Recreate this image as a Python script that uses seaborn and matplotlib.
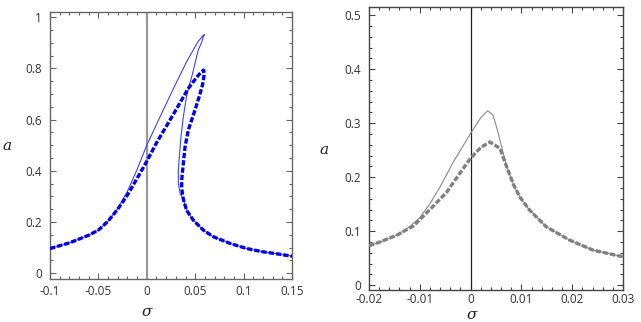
import numpy as np
import pandas as pd
import matplotlib
matplotlib.use("Agg")
import matplotlib.pyplot as plt
from matplotlib.ticker import MultipleLocator, FuncFormatter
import seaborn as sns

# ---------------- data: left panel (blue) ----------------
left_thin_x = [-0.1, -0.08, -0.06, -0.05, -0.04, -0.03, -0.02, -0.01, 0.0, 0.0136, 0.0274,
               0.041, 0.053, 0.0575, 0.0595, 0.0585, 0.057, 0.053, 0.0498, 0.0466, 0.0435,
               0.041, 0.0377, 0.0353, 0.0336, 0.0326, 0.0326, 0.0345, 0.0377, 0.041, 0.048,
               0.0584, 0.0687, 0.086, 0.1032, 0.1204, 0.135, 0.15]
left_thin_y = [0.096, 0.118, 0.148, 0.168, 0.203, 0.252, 0.32, 0.405, 0.50, 0.61, 0.72,
               0.825, 0.905, 0.925, 0.932, 0.925, 0.905, 0.87, 0.819, 0.77, 0.728,
               0.689, 0.61, 0.532, 0.454, 0.402, 0.35, 0.31, 0.29, 0.246, 0.207,
               0.168, 0.142, 0.116, 0.096, 0.083, 0.075, 0.066]

left_thick_x = [-0.1, -0.08, -0.06, -0.05, -0.04, -0.03, -0.02, -0.01, 0.0, 0.0102, 0.0274,
                0.0426, 0.0515, 0.0565, 0.0588, 0.0594, 0.0585, 0.0575, 0.055, 0.0498,
                0.0429, 0.0395, 0.0377, 0.0362, 0.036, 0.0368, 0.0377, 0.041, 0.048,
                0.0584, 0.0687, 0.086, 0.1032, 0.1204, 0.135, 0.15]
left_thick_y = [0.096, 0.118, 0.148, 0.168, 0.203, 0.25, 0.305, 0.37, 0.437, 0.51, 0.62,
                0.72, 0.765, 0.787, 0.793, 0.78, 0.755, 0.735, 0.70, 0.637,
                0.559, 0.493, 0.428, 0.37, 0.337, 0.31, 0.29, 0.246, 0.207,
                0.168, 0.142, 0.116, 0.096, 0.083, 0.075, 0.066]

left_xticks = [-0.1, -0.05, 0, 0.05, 0.1, 0.15]
left_yticks = [0, 0.2, 0.4, 0.6, 0.8, 1]

# ---------------- data: right panel (gray) ----------------
right_thin_x = [-0.02, -0.0178, -0.0145, -0.012, -0.01, -0.008, -0.006, -0.0034, 0.0,
                0.002, 0.00336, 0.0044, 0.0051, 0.0058, 0.0064, 0.0071, 0.0085, 0.0097,
                0.0116, 0.0149, 0.0195, 0.0241, 0.03]
right_thin_y = [0.073, 0.080, 0.0926, 0.108, 0.125, 0.151, 0.182, 0.228, 0.281,
                0.31, 0.323, 0.315, 0.293, 0.268, 0.245, 0.219, 0.185, 0.163,
                0.139, 0.108, 0.0833, 0.0648, 0.0525]

right_thick_x = [-0.02, -0.0178, -0.0145, -0.0112, -0.008, -0.0047, -0.0034, 0.0, 0.002,
                 0.0038, 0.0058, 0.0071, 0.0085, 0.0097, 0.0116, 0.0149, 0.0195, 0.0241, 0.03]
right_thick_y = [0.073, 0.080, 0.0926, 0.110, 0.14, 0.172, 0.19, 0.235, 0.255,
                 0.265, 0.253, 0.219, 0.185, 0.163, 0.139, 0.108, 0.0833, 0.0648, 0.0525]

right_xticks = [-0.02, -0.01, 0, 0.01, 0.02, 0.03]
right_yticks = [0, 0.1, 0.2, 0.3, 0.4, 0.5]

# ---------------- figure ----------------
sns.set_style("ticks")
plt.rcParams['font.family'] = ['Open Sans', 'DejaVu Sans']

fig = plt.figure(figsize=(6.41, 3.22), dpi=100)
axL = fig.add_axes([50/641, 1-279/322, 242/641, 267/322])
axR = fig.add_axes([369/641, 1-290/322, 254/641, 283/322])

def fmt(v, pos):
    return '%g' % v

def style(ax, frame_color, xpad):
    for sp in ax.spines.values():
        sp.set_visible(True)
        sp.set_color(frame_color)
        sp.set_linewidth(1.0)
    ax.tick_params(which='both', direction='in', top=True, right=True,
                   bottom=True, left=True,
                   colors=frame_color, labelcolor='#333333', labelsize=8.5, width=0.8)
    ax.tick_params(which='major', length=4)
    ax.tick_params(which='minor', length=2)
    ax.tick_params(axis='x', which='major', pad=xpad)
    ax.tick_params(axis='y', which='major', pad=6)
    ax.xaxis.set_major_formatter(FuncFormatter(fmt))
    ax.yaxis.set_major_formatter(FuncFormatter(fmt))
    ax.set_xlabel('')
    ax.set_ylabel('')

# left panel
dfLt = pd.DataFrame({'x': left_thin_x, 'y': left_thin_y})
dfLk = pd.DataFrame({'x': left_thick_x, 'y': left_thick_y})
axL.axvline(0, color='#999999', lw=1.6, zorder=1)
sns.lineplot(data=dfLt, x='x', y='y', sort=False, estimator=None, ax=axL,
             color='#4040ff', lw=0.8, zorder=3)
sns.lineplot(data=dfLk, x='x', y='y', sort=False, estimator=None, ax=axL,
             color='#0000ee', lw=2.4, zorder=4)
axL.lines[-1].set_dashes([1.6, 0.6])
axL.set_xlim(-0.1, 0.15)
axL.set_ylim(-0.023, 1.02)
axL.set_xticks(left_xticks)
axL.set_yticks(left_yticks)
axL.xaxis.set_minor_locator(MultipleLocator(0.01))
axL.yaxis.set_minor_locator(MultipleLocator(0.05))
style(axL, '#666666', 4)

# right panel
dfRt = pd.DataFrame({'x': right_thin_x, 'y': right_thin_y})
dfRk = pd.DataFrame({'x': right_thick_x, 'y': right_thick_y})
axR.axvline(0, color='#222222', lw=0.9, zorder=1)
sns.lineplot(data=dfRt, x='x', y='y', sort=False, estimator=None, ax=axR,
             color='#8a8a8a', lw=0.8, zorder=3)
sns.lineplot(data=dfRk, x='x', y='y', sort=False, estimator=None, ax=axR,
             color='#808080', lw=2.4, zorder=4)
axR.lines[-1].set_dashes([1.6, 0.6])
axR.set_xlim(-0.02, 0.03)
axR.set_ylim(-0.009, 0.515)
axR.set_xticks(right_xticks)
axR.set_yticks(right_yticks)
axR.xaxis.set_minor_locator(MultipleLocator(0.002))
axR.yaxis.set_minor_locator(MultipleLocator(0.02))
style(axR, '#444444', 2)

# axis labels
lab = dict(family=['DejaVu Serif'], style='italic', fontsize=11, color='#222222',
           ha='center', va='center')
fig.text(7/641, 1-146/322, 'a', **lab)
fig.text(147/641, 1-312/322, 'σ', **lab)
fig.text(324/641, 1-150/322, 'a', **lab)
fig.text(472/641, 1-315/322, 'σ', **lab)

fig.savefig('out.png', dpi=100)
